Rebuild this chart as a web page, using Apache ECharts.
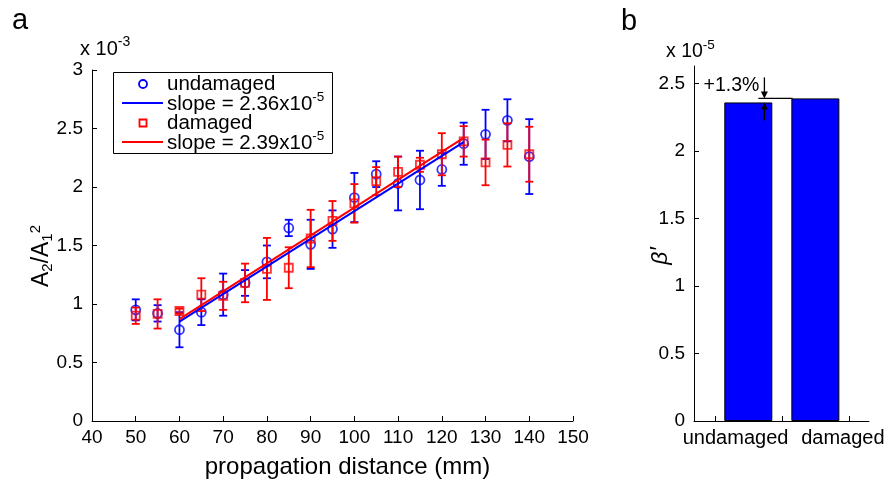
<!DOCTYPE html>
<html>
<head>
<meta charset="utf-8">
<script src="https://cdn.jsdelivr.net/npm/echarts@6/dist/echarts.min.js"></script>
<style>html,body{margin:0;padding:0;background:#fff;}#c{width:889px;height:488px;}</style>
</head>
<body>
<div id="c"></div>
<script>
// ---- data (A2/A1^2 in units of 1e-3) ----
const distances = [50,55,60,65,70,75,80,85,90,95,100,105,110,115,120,125,130,135,140];
const undamagedMean = [0.95,0.92,0.78,0.93,1.08,1.18,1.36,1.65,1.51,1.64,1.91,2.11,2.03,2.06,2.15,2.37,2.45,2.57,2.26];
const undamagedErr  = [0.09,0.07,0.15,0.11,0.18,0.11,0.14,0.07,0.21,0.16,0.21,0.11,0.23,0.25,0.14,0.18,0.21,0.18,0.32];
const damagedMean   = [0.90,0.915,0.94,1.08,1.07,1.18,1.30,1.31,1.56,1.71,1.86,2.05,2.13,2.19,2.28,2.39,2.21,2.36,2.28];
const damagedErr    = [0.07,0.125,0.02,0.14,0.12,0.165,0.265,0.175,0.245,0.17,0.165,0.12,0.13,0.06,0.18,0.13,0.195,0.185,0.235];
const fitX          = [60,125];
const undamagedFitY = [0.85,2.384];
const damagedFitY   = [0.87,2.42];
const legendLabels  = ['undamaged','slope = 2.36x10','damaged','slope = 2.39x10'];
const slopeExp      = '-5';
// panel b (units of 1e-5)
const barCategories = ['undamaged','damaged'];
const barPositions  = [1,2];
const barValues     = [2.36,2.39];
const bTicks        = [0.5,1.5,2.5];
const bLabelPos     = [0.81,2.41];
const bYTicks       = [0,0.5,1,1.5,2,2.5];
const pctText       = '+1.3%';

const FONT = "'Liberation Sans', Arial, sans-serif";
const BLUE = '#0000ff', RED = '#ff0000';

function errData(mean, err){ return distances.map((d,i)=>[d, mean[i], mean[i]-err[i], mean[i]+err[i]]); }
function errRender(color){
  return function(params, api){
    const x = api.value(0);
    const lo = api.coord([x, api.value(2)]);
    const hi = api.coord([x, api.value(3)]);
    const w = 4;
    const st = {stroke: color, lineWidth: 1.8};
    return {type:'group', children:[
      {type:'line', shape:{x1:lo[0],y1:lo[1],x2:hi[0],y2:hi[1]}, style:st},
      {type:'line', shape:{x1:lo[0]-w,y1:lo[1],x2:lo[0]+w,y2:lo[1]}, style:st},
      {type:'line', shape:{x1:hi[0]-w,y1:hi[1],x2:hi[0]+w,y2:hi[1]}, style:st}
    ]};
  };
}

const axisCommon = {
  axisLine:{show:true, onZero:false, lineStyle:{color:'#000', width:1}},
  axisTick:{show:true, inside:true, length:5, lineStyle:{color:'#000', width:1}},
  splitLine:{show:false},
};

const chart = echarts.init(document.getElementById('c'), null, {renderer:'canvas'});
const option = {
  animation:false,
  backgroundColor:'#fff',
  textStyle:{fontFamily:FONT},
  grid:[
    {left:92, top:70, width:481, height:351},
    {left:694, top:66, width:175, height:355}
  ],
  xAxis:[
    Object.assign({}, axisCommon, {gridIndex:0, type:'value', min:40, max:150, interval:10,
      axisLabel:{color:'#000', fontSize:19, margin:7, fontFamily:FONT},
      name:'propagation distance (mm)', nameLocation:'middle', nameGap:34,
      nameTextStyle:{color:'#000', fontSize:24, fontFamily:FONT, padding:[0,0,0,30]}}),
    Object.assign({}, axisCommon, {gridIndex:1, type:'value', min:0.19, max:2.8,
      axisTick:{show:true, inside:true, length:5, lineStyle:{color:'#000'}, customValues:bTicks},
      axisLabel:{color:'#000', fontSize:20, margin:7, fontFamily:FONT, customValues:bLabelPos,
        formatter:function(v){ let k=0; for(let i=1;i<bLabelPos.length;i++){ if(Math.abs(bLabelPos[i]-v)<Math.abs(bLabelPos[k]-v)) k=i; } return barCategories[k]; }}})
  ],
  yAxis:[
    Object.assign({}, axisCommon, {gridIndex:0, type:'value', min:0, max:3, interval:0.5,
      axisLabel:{color:'#000', fontSize:19, margin:9, fontFamily:FONT}}),
    Object.assign({}, axisCommon, {gridIndex:1, type:'value', min:0, max:2.63,
      axisTick:{show:true, inside:true, length:5, lineStyle:{color:'#000'}, customValues:bYTicks},
      axisLabel:{color:'#000', fontSize:19, margin:9, fontFamily:FONT, customValues:bYTicks}})
  ],
  series:[
    {type:'custom', xAxisIndex:0, yAxisIndex:0, data:errData(undamagedMean, undamagedErr),
     encode:{x:0, y:[2,3]}, renderItem:errRender(BLUE), z:2},
    {type:'scatter', xAxisIndex:0, yAxisIndex:0, data:distances.map((d,i)=>[d, undamagedMean[i]]),
     symbol:'circle', symbolSize:9, itemStyle:{color:'rgba(0,0,0,0)', borderColor:BLUE, borderWidth:1.8}, z:3},
    {type:'custom', xAxisIndex:0, yAxisIndex:0, data:errData(damagedMean, damagedErr),
     encode:{x:0, y:[2,3]}, renderItem:errRender(RED), z:4},
    {type:'scatter', xAxisIndex:0, yAxisIndex:0, data:distances.map((d,i)=>[d, damagedMean[i]]),
     symbol:'rect', symbolSize:8, itemStyle:{color:'rgba(0,0,0,0)', borderColor:RED, borderWidth:1.8}, z:5},
    {type:'line', xAxisIndex:0, yAxisIndex:0, data:fitX.map((x,i)=>[x, undamagedFitY[i]]),
     showSymbol:false, lineStyle:{color:BLUE, width:2}, z:6},
    {type:'line', xAxisIndex:0, yAxisIndex:0, data:fitX.map((x,i)=>[x, damagedFitY[i]]),
     showSymbol:false, lineStyle:{color:RED, width:2}, z:7},
    {type:'bar', xAxisIndex:1, yAxisIndex:1, data:barPositions.map((p,i)=>[p, barValues[i]]),
     barWidth:48, itemStyle:{color:BLUE, borderColor:'#000', borderWidth:1}, z:2},
    {type:'custom', xAxisIndex:1, yAxisIndex:1, data:[[1.5, barValues[1]]], encode:{x:0,y:1}, z:10,
     renderItem:function(params, api){
       const pl = api.coord([1.15, barValues[1]]);
       const pr = api.coord([1.66, barValues[1]]);
       const pa = api.coord([1.24, barValues[0]]);
       const xa = pa[0], yl = pl[1], yb = pa[1];
       const st = {stroke:'#000', lineWidth:1.3};
       return {type:'group', children:[
         {type:'line', shape:{x1:pl[0],y1:yl,x2:pr[0],y2:yl}, style:st},
         {type:'line', shape:{x1:xa,y1:yl-21,x2:xa,y2:yl-6}, style:st},
         {type:'polygon', shape:{points:[[xa-3.5,yl-7],[xa+3.5,yl-7],[xa,yl]]}, style:{fill:'#000'}},
         {type:'line', shape:{x1:xa,y1:yb+18,x2:xa,y2:yb+6}, style:st},
         {type:'polygon', shape:{points:[[xa-3.5,yb+7],[xa+3.5,yb+7],[xa,yb]]}, style:{fill:'#000'}},
         {type:'text', style:{text:pctText, x:xa-5, y:yl-13, align:'right', verticalAlign:'middle',
           fill:'#000', fontSize:19.5, fontFamily:FONT}}
       ]};
     }}
  ],
  graphic:[
    {type:'text', x:20, y:21, style:{text:'a', fontSize:29, fontFamily:FONT, fill:'#000', align:'center', verticalAlign:'middle'}},
    {type:'text', x:629, y:22, style:{text:'b', fontSize:29, fontFamily:FONT, fill:'#000', align:'center', verticalAlign:'middle'}},
    {type:'text', x:80, y:49, style:{text:'{n|x 10}{s|-3}', verticalAlign:'middle', fill:'#000',
      rich:{n:{fontSize:20, fontFamily:FONT, fill:'#000'}, s:{fontSize:14, fontFamily:FONT, fill:'#000', padding:[0,0,13,0]}}}},
    {type:'text', x:666, y:52, style:{text:'{n|x 10}{s|-5}', verticalAlign:'middle', fill:'#000',
      rich:{n:{fontSize:19.5, fontFamily:FONT, fill:'#000'}, s:{fontSize:13.5, fontFamily:FONT, fill:'#000', padding:[0,0,13,0]}}}},
    {type:'text', x:42, y:256, rotation:Math.PI/2, style:{text:'A{b|2}/A{b|1}{p|2}', align:'center', verticalAlign:'middle', fill:'#000',
      fontSize:23, fontFamily:FONT,
      rich:{b:{fontSize:15, fontFamily:FONT, fill:'#000', padding:[11,0,0,0]}, p:{fontSize:15, fontFamily:FONT, fill:'#000', padding:[0,0,13,0]}}}},
    {type:'text', x:661, y:256, rotation:Math.PI/2, style:{text:'β′', align:'center', verticalAlign:'middle', fill:'#000',
      fontSize:23, fontStyle:'italic', fontFamily:FONT}},
    // legend
    {type:'rect', shape:{x:113.5, y:72.5, width:219, height:81}, style:{fill:'#fff', stroke:'#000', lineWidth:1}, z:20},
    {type:'circle', shape:{cx:143, cy:84, r:4}, style:{fill:'none', stroke:BLUE, lineWidth:1.8}, z:21},
    {type:'text', x:167, y:84, style:{text:legendLabels[0], fontSize:20.5, fontFamily:FONT, fill:'#000', verticalAlign:'middle'}, z:21},
    {type:'line', shape:{x1:122, y1:103, x2:163, y2:103}, style:{stroke:BLUE, lineWidth:2}, z:21},
    {type:'text', x:167, y:104, style:{text:legendLabels[1]+'{s|'+slopeExp+'}', fontSize:20.5, fontFamily:FONT, fill:'#000', verticalAlign:'middle',
      rich:{s:{fontSize:13.5, fontFamily:FONT, fill:'#000', padding:[0,0,13,0]}}}, z:21},
    {type:'rect', shape:{x:139.5, y:119.5, width:7, height:7}, style:{fill:'none', stroke:RED, lineWidth:1.8}, z:21},
    {type:'text', x:167, y:123, style:{text:legendLabels[2], fontSize:20.5, fontFamily:FONT, fill:'#000', verticalAlign:'middle'}, z:21},
    {type:'line', shape:{x1:122, y1:142, x2:163, y2:142}, style:{stroke:RED, lineWidth:2}, z:21},
    {type:'text', x:167, y:143, style:{text:legendLabels[3]+'{s|'+slopeExp+'}', fontSize:20.5, fontFamily:FONT, fill:'#000', verticalAlign:'middle',
      rich:{s:{fontSize:13.5, fontFamily:FONT, fill:'#000', padding:[0,0,13,0]}}}, z:21}
  ]
};
chart.setOption(option);
</script>
</body>
</html>
